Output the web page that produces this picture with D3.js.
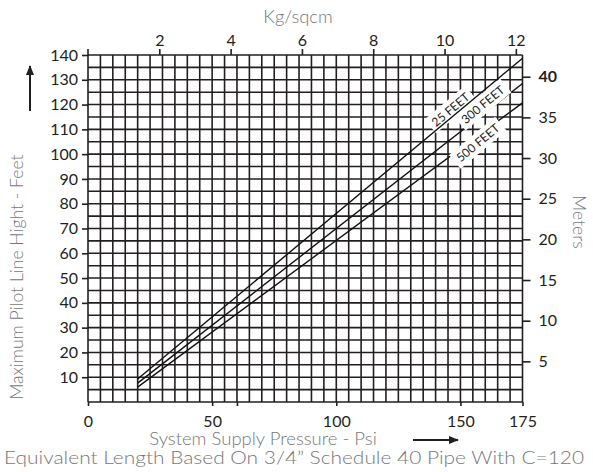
<!DOCTYPE html>
<html><head><meta charset="utf-8">
<script src="https://cdn.jsdelivr.net/npm/d3@7"></script>
<style>body{margin:0;background:#fff}svg{display:block}text{font-family:Lato,"Open Sans",sans-serif}</style>
</head><body><svg id="c" width="593" height="472"></svg>
<script>
// ---- data ----
const psiStart = [20, 175];          // x extent of each curve (psi)
const line25 = [9.3, 138.7];         // feet at psiStart
const line300 = [7.6, 128.5];
const line500 = [6.0, 120.7];
const seriesNames = ["25 FEET", "300 FEET", "500 FEET"];
const labelPsi = [146, 159, 157];    // where labels sit along x (psi)
const labelFt = [118, 120, 104.6];   // label centre (feet)
const bottomTicks = [0, 50, 100, 150, 175];
const bottomExtraTicks = [60];
const leftTicks = [10, 20, 30, 40, 50, 60, 70, 80, 90, 100, 110, 120, 130, 140];
const rightTicks = [5, 10, 15, 20, 25, 30, 35, 40];
const topTicks = [2, 4, 6, 8, 10, 12];

const svg = d3.select("#c");
const x = d3.scaleLinear().domain([0, 175]).range([88, 522.5]);
const y = d3.scaleLinear().domain([0, 140]).range([402, 55]);
const yM = d3.scaleLinear().domain([0, 140 / 3.2808]).range([402, 55]);
const xK = d3.scaleLinear().domain([0, 12.2]).range([88, 523]);
const ink = "#231f20", grey = "#76777a";

// grid
const g = svg.append("g");
const vx = d3.range(0, 176, 5), hy = d3.range(0, 141, 5);
g.selectAll(".v").data(vx).join("line")
  .attr("x1", d => x(d)).attr("x2", d => x(d)).attr("y1", y(0)).attr("y2", y(140))
  .attr("stroke", ink).attr("stroke-width", 1.6);
g.selectAll(".h").data(hy).join("line")
  .attr("y1", d => y(d)).attr("y2", d => y(d)).attr("x1", x(0)).attr("x2", x(175))
  .attr("stroke", ink).attr("stroke-width", 1.6);

// axes
const axL = d3.axisLeft(y).tickValues(leftTicks).tickSize(6).tickPadding(4);
const axR = d3.axisRight(yM).tickValues(rightTicks).tickSize(8).tickPadding(8);
const axB = d3.axisBottom(x).tickValues(bottomTicks.concat(bottomExtraTicks)).tickSize(4).tickPadding(10)
  .tickFormat(d => bottomTicks.includes(d) ? d : "");
const axT = d3.axisTop(xK).tickValues(topTicks).tickSize(6).tickPadding(3);
function style(sel){
  sel.select(".domain").remove();
  sel.selectAll("line").attr("stroke", ink).attr("stroke-width", 1.6);
  sel.selectAll("text").attr("fill", ink).style("font-size", "16px");
}
svg.append("g").attr("transform", `translate(${x(0)},0)`).call(axL).call(style);
svg.append("g").attr("transform", `translate(${x(175)},0)`).call(axR).call(style)
  .selectAll("text").filter(d => d === 40).attr("font-weight", "bold");
svg.append("g").attr("transform", `translate(0,${y(0)})`).call(axB).call(style);
svg.append("g").attr("transform", `translate(0,${y(140)})`).call(axT).call(style);
svg.append("line").attr("x1", x(0)).attr("x2", x(0)).attr("y1", y(140) - 6).attr("y2", y(140)).attr("stroke", ink).attr("stroke-width", 1.6);

// curves
const lineGen = d3.line().x((d, i) => x(psiStart[i])).y(d => y(d));
const drawLine = (vals) => svg.append("path").attr("d", lineGen(vals)).attr("fill", "none")
  .attr("stroke", "#111").attr("stroke-width", 1.4);
drawLine(line300); drawLine(line500);

// labels with white box
const ang = -Math.atan2(y(line25[0]) - y(line25[1]), x(175) - x(20)) * 180 / Math.PI;
seriesNames.forEach((name, i) => {
  const gl = svg.append("g").attr("transform", `translate(${x(labelPsi[i])},${y(labelFt[i])}) rotate(${ang})`);
  const t = gl.append("text").text(name).attr("text-anchor", "middle").attr("dy", "0.36em")
    .style("font-size", "12px").attr("fill", ink);
  const w = t.node().getComputedTextLength();
  gl.insert("rect", "text").attr("x", -w / 2 - 4).attr("y", -9).attr("width", w + 8).attr("height", 18).attr("fill", "#fff");
});
drawLine(line25);

// titles
const tl = (txt, xx, yy, rot, size) => svg.append("text").text(txt)
  .attr("transform", `translate(${xx},${yy}) rotate(${rot})`).attr("text-anchor", "middle")
  .attr("fill", grey).style("font-size", size + "px").style("font-weight", 300);
tl("Kg/sqcm", 298, 23, 0, 18.3);
tl("Maximum Pilot Line Hight - Feet", 23, 277, -90, 17.6);
tl("Meters", 573, 222, 90, 17.5);
tl("System Supply Pressure - Psi", 263, 445, 0, 18.5);
tl("Equivalent Length Based On 3/4\u201D Schedule 40 Pipe With C=120", 294, 464, 0, 18.5)
  .attr("textLength", 580).attr("lengthAdjust", "spacingAndGlyphs");

// arrows
svg.append("defs").append("marker").attr("id", "ah").attr("viewBox", "0 0 10 10")
  .attr("refX", 9).attr("refY", 5).attr("markerWidth", 5).attr("markerHeight", 5).attr("orient", "auto")
  .append("path").attr("d", "M0,1L10,5L0,9Z").attr("fill", ink);
svg.append("line").attr("x1", 413).attr("x2", 458).attr("y1", 440).attr("y2", 440)
  .attr("stroke", ink).attr("stroke-width", 2).attr("marker-end", "url(#ah)");
svg.append("line").attr("x1", 30).attr("x2", 30).attr("y1", 111).attr("y2", 66)
  .attr("stroke", ink).attr("stroke-width", 2).attr("marker-end", "url(#ah)");
</script></body></html>
